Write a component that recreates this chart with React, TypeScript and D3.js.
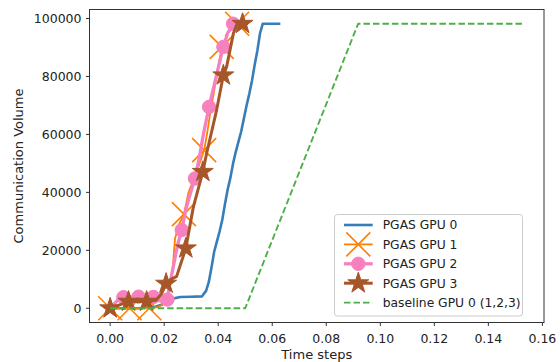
import React, { useEffect, useRef } from "react";
import * as d3 from "d3";

type Pt = [number, number];

const gpu0: Pt[] = [
  [0, 0], [0.010, 0], [0.013, 200], [0.015, 400], [0.017, 600], [0.019, 1200], [0.020, 1800],
  [0.022, 2800], [0.024, 3500], [0.026, 3900], [0.030, 4000], [0.034, 4100], [0.0345, 4800],
  [0.0355, 6000], [0.0365, 9000], [0.0375, 14000], [0.0385, 19500], [0.0395, 23000],
  [0.0405, 26500], [0.0415, 30500], [0.0425, 36000], [0.0435, 41000], [0.0445, 45000],
  [0.0455, 50000], [0.0465, 54000], [0.0475, 57500], [0.0485, 61000], [0.0495, 65500],
  [0.0505, 70000], [0.0515, 74000], [0.0525, 78500], [0.0535, 84000], [0.0545, 89000],
  [0.0555, 95000], [0.0565, 98200], [0.0630, 98200],
];
const gpu0Markers: number[] = [];

const gpu1: Pt[] = [
  [0, 0], [0.0072, 0], [0.0145, 0], [0.018, 500], [0.0205, 2000], [0.0215, 5000], [0.023, 12000],
  [0.024, 24000], [0.0255, 29000], [0.0273, 32500], [0.029, 40000], [0.032, 47000],
  [0.0348, 54600], [0.036, 61000], [0.0372, 68400], [0.0385, 75000], [0.0398, 82200],
  [0.0413, 90200], [0.0425, 92500], [0.044, 96000], [0.045, 98200], [0.047, 98200], [0.049, 98200],
];
const gpu1Markers = [0, 1, 2, 9, 12, 17, 21];

const gpu2: Pt[] = [
  [0, 0], [0.0035, 3500], [0.0049, 3800], [0.0105, 4000], [0.016, 3900], [0.0185, 2500],
  [0.0212, 3000], [0.022, 8000], [0.0235, 15000], [0.025, 22000], [0.0265, 27000],
  [0.028, 34000], [0.0298, 40000], [0.0314, 44800], [0.033, 52000], [0.0345, 60000],
  [0.0366, 69500], [0.038, 75000], [0.040, 83000], [0.0419, 90200], [0.0435, 95000],
  [0.0455, 98200], [0.047, 98200],
];
const gpu2Markers = [2, 3, 4, 6, 10, 13, 16, 19, 21];

const gpu3: Pt[] = [
  [0, 0], [0.003, 1000], [0.0068, 2300], [0.0135, 2300], [0.017, 2800], [0.019, 5000],
  [0.0207, 8500], [0.0225, 10000], [0.0246, 11000], [0.028, 20700], [0.0308, 35000],
  [0.0343, 47100], [0.0357, 53400], [0.0394, 68400], [0.0419, 80400], [0.0431, 83300],
  [0.0456, 94800], [0.047, 98200], [0.049, 98200], [0.051, 98200],
];
const gpu3Markers = [0, 2, 3, 6, 9, 11, 14, 18];

const baseline: Pt[] = [[0, 0], [0.050, 0], [0.0918, 98200], [0.1525, 98200]];

const seriesNames = ["PGAS GPU 0", "PGAS GPU 1", "PGAS GPU 2", "PGAS GPU 3", "baseline GPU 0 (1,2,3)"];
const xTicks = [0, 0.02, 0.04, 0.06, 0.08, 0.1, 0.12, 0.14, 0.16];
const yTicks = [0, 20000, 40000, 60000, 80000, 100000];

const W = 560, H = 362;
const FONT = "'DejaVu Sans', sans-serif";

export default function App() {
  const ref = useRef<SVGSVGElement>(null);
  useEffect(() => {
    const svg = d3.select(ref.current);
    svg.selectAll("*").remove();
    const L = 89.5, R = 544, T = 9.5, B = 322.5;
    const x = d3.scaleLinear().domain([-0.00765, 0.1606]).range([L, R]);
    const y = d3.scaleLinear().domain([-4910, 103110]).range([B, T]);

    svg.append("rect").attr("width", W).attr("height", H).attr("fill", "#fff");

    const clip = svg.append("clipPath").attr("id", "plotclip");
    clip.append("rect").attr("x", L).attr("y", T).attr("width", R - L).attr("height", B - T);

    const plot = svg.append("g").attr("clip-path", "url(#plotclip)");
    const line = d3.line<Pt>().x((d) => x(d[0])).y((d) => y(d[1]));

    const starSym = d3.symbol().type(d3.symbolStar).size(136);
    const circleSym = d3.symbol().type(d3.symbolCircle).size(Math.PI * 6.7 * 6.7);

    type Style = { color: string; width: number; dash?: string; marker?: string };
    const styles: Style[] = [
      { color: "#377eb8", width: 2.6 },
      { color: "#ff7f00", width: 1.8, marker: "x" },
      { color: "#f781bf", width: 3.3, marker: "o" },
      { color: "#a65628", width: 3, marker: "*" },
      { color: "#4daf4a", width: 1.9, dash: "6.5,3" },
    ];

    const drawMarker = (g: any, kind: string | undefined, cx: number, cy: number, color: string) => {
      if (!kind) return;
      if (kind === "x") {
        const s = 12;
        g.append("path")
          .attr("d", `M${cx - s},${cy - s}L${cx + s},${cy + s}M${cx - s},${cy + s}L${cx + s},${cy - s}`)
          .attr("stroke", color).attr("stroke-width", 1.6).attr("fill", "none");
      } else if (kind === "o") {
        g.append("path").attr("d", circleSym()!).attr("transform", `translate(${cx},${cy})`)
          .attr("fill", color).attr("stroke", color).attr("stroke-width", 1);
      } else if (kind === "*") {
        g.append("path").attr("d", starSym()!).attr("transform", `translate(${cx},${cy})`)
          .attr("fill", color).attr("stroke", color).attr("stroke-width", 1).attr("stroke-linejoin", "miter");
      }
    };

    const data: Pt[][] = [gpu0, gpu1, gpu2, gpu3, baseline];
    const marks: number[][] = [gpu0Markers, gpu1Markers, gpu2Markers, gpu3Markers, []];
    data.forEach((d, i) => {
      const st = styles[i];
      const g = plot.append("g");
      g.append("path").attr("d", line(d)!).attr("fill", "none").attr("stroke", st.color)
        .attr("stroke-width", st.width).attr("stroke-linejoin", "round")
        .attr("stroke-dasharray", st.dash ?? null);
      marks[i].forEach((idx) => drawMarker(g, st.marker, x(d[idx][0]), y(d[idx][1]), st.color));
    });

    const axisColor = "#333";
    svg.append("rect").attr("x", L).attr("y", T).attr("width", R - L).attr("height", B - T)
      .attr("fill", "none").attr("stroke", axisColor).attr("stroke-width", 1);

    const fmtX = d3.format(".2f");
    xTicks.forEach((t) => {
      const px = x(t);
      svg.append("line").attr("x1", px).attr("x2", px).attr("y1", B).attr("y2", B + 3.5)
        .attr("stroke", axisColor).attr("stroke-width", 1);
      svg.append("text").attr("x", px).attr("y", B + 20.5).attr("text-anchor", "middle")
        .attr("font-family", FONT).attr("font-size", 12.5).attr("fill", "#222").text(fmtX(t));
    });
    yTicks.forEach((t) => {
      const py = y(t);
      svg.append("line").attr("x1", L - 3.5).attr("x2", L).attr("y1", py).attr("y2", py)
        .attr("stroke", axisColor).attr("stroke-width", 1);
      svg.append("text").attr("x", L - 8).attr("y", py).attr("dy", "0.35em").attr("text-anchor", "end")
        .attr("font-family", FONT).attr("font-size", 12.5).attr("fill", "#222").text(String(t));
    });

    svg.append("text").attr("x", (L + R) / 2).attr("y", 358.5).attr("text-anchor", "middle")
      .attr("font-family", FONT).attr("font-size", 13).attr("fill", "#222").text("Time steps");
    svg.append("text").attr("transform", `translate(22.5,${(T + B) / 2}) rotate(-90)`)
      .attr("text-anchor", "middle").attr("font-family", FONT).attr("font-size", 13)
      .attr("fill", "#222").text("Communication Volume");

    const lg = svg.append("g");
    lg.append("rect").attr("x", 334.5).attr("y", 214.5).attr("width", 188).attr("height", 101.5)
      .attr("rx", 3).attr("fill", "#fff").attr("fill-opacity", 0.8)
      .attr("stroke", "#cccccc").attr("stroke-width", 1);
    seriesNames.forEach((name, i) => {
      const st = styles[i];
      const cy = 225 + i * 19.4;
      lg.append("line").attr("x1", 344).attr("x2", 372.7).attr("y1", cy).attr("y2", cy)
        .attr("stroke", st.color).attr("stroke-width", st.width)
        .attr("stroke-dasharray", st.dash ?? null);
      drawMarker(lg, st.marker, 358.3, cy, st.color);
      lg.append("text").attr("x", 382.7).attr("y", cy).attr("dy", "0.36em")
        .attr("font-family", FONT).attr("font-size", 12.3).attr("fill", "#222").text(name);
    });
  }, []);

  return (
    <svg ref={ref} width={W} height={H}
      style={{ position: "absolute", left: 0, top: 0, display: "block" }} />
  );
}
